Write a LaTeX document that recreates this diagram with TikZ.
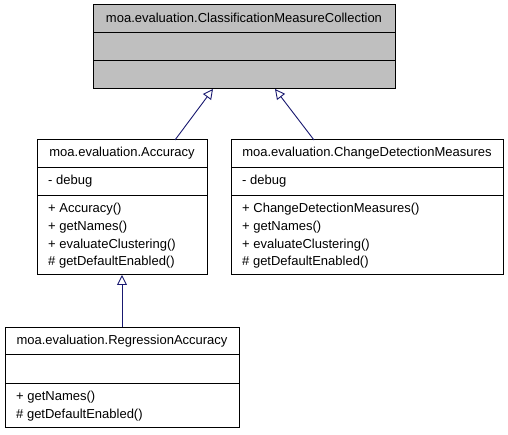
\documentclass[tikz,border=0pt]{standalone}
\usepackage{fontspec}
\setmainfont{Liberation Sans}
\usetikzlibrary{arrows.meta,calc}
\definecolor{boxgray}{HTML}{BFBFBF}
\definecolor{edgeblue}{HTML}{191970}
\tikzset{
  classbox/.style={draw=black, line width=1pt, fill=white, anchor=north west, inner sep=0pt, outer sep=0pt},
  rowline/.style={draw=black, line width=1pt},
  classname/.style={font=\fontsize{13}{16}\selectfont, anchor=base, inner sep=0pt},
  member/.style={font=\fontsize{13}{16}\selectfont, anchor=base west, inner sep=0pt},
  inherits/.style={draw=edgeblue, line width=0.9pt, -{Triangle[open, length=10pt, width=10pt, fill=white]}},
}
\begin{document}
\begin{tikzpicture}[x=1pt,y=1pt]
  \useasboundingbox (0,0) rectangle (508,-435);
  % base class
  \node[classbox, fill=boxgray, minimum width=302, minimum height=84] (cmc) at (93,-5) {};
  \draw[rowline] ($(cmc.north west)+(0,-28)$) -- ($(cmc.north east)+(0,-28)$);
  \draw[rowline] ($(cmc.north west)+(0,-56)$) -- ($(cmc.north east)+(0,-56)$);
  \node[classname] (cmc-title) at ($(cmc.north)+(0,-17.5)$) {moa.evaluation.ClassificationMeasureCollection};
  % Accuracy
  \node[classbox, minimum width=170, minimum height=135] (acc) at (37,-140) {};
  \draw[rowline] ($(acc.north west)+(0,-28)$) -- ($(acc.north east)+(0,-28)$);
  \draw[rowline] ($(acc.north west)+(0,-56)$) -- ($(acc.north east)+(0,-56)$);
  \node[classname] (acc-title) at ($(acc.north)+(0,-17)$) {moa.evaluation.Accuracy};
  \node[member] (acc-a1) at ($(acc.north west)+(11,-45)$) {- debug};
  \node[member] (acc-m1) at ($(acc.north west)+(11,-72.6)$) {+ Accuracy()};
  \node[member] (acc-m2) at ($(acc.north west)+(11,-90.4)$) {+ getNames()};
  \node[member] (acc-m3) at ($(acc.north west)+(11,-108.2)$) {+ evaluateClustering()};
  \node[member] (acc-m4) at ($(acc.north west)+(11,-126)$) {\# getDefaultEnabled()};
  % ChangeDetectionMeasures
  \node[classbox, minimum width=272, minimum height=135] (cdm) at (231,-140) {};
  \draw[rowline] ($(cdm.north west)+(0,-28)$) -- ($(cdm.north east)+(0,-28)$);
  \draw[rowline] ($(cdm.north west)+(0,-56)$) -- ($(cdm.north east)+(0,-56)$);
  \node[classname] (cdm-title) at ($(cdm.north)+(0,-17)$) {moa.evaluation.ChangeDetectionMeasures};
  \node[member] (cdm-a1) at ($(cdm.north west)+(11,-45)$) {- debug};
  \node[member] (cdm-m1) at ($(cdm.north west)+(11,-72.6)$) {+ ChangeDetectionMeasures()};
  \node[member] (cdm-m2) at ($(cdm.north west)+(11,-90.4)$) {+ getNames()};
  \node[member] (cdm-m3) at ($(cdm.north west)+(11,-108.2)$) {+ evaluateClustering()};
  \node[member] (cdm-m4) at ($(cdm.north west)+(11,-126)$) {\# getDefaultEnabled()};
  % RegressionAccuracy
  \node[classbox, minimum width=234, minimum height=100] (reg) at (5,-327) {};
  \draw[rowline] ($(reg.north west)+(0,-27)$) -- ($(reg.north east)+(0,-27)$);
  \draw[rowline] ($(reg.north west)+(0,-56)$) -- ($(reg.north east)+(0,-56)$);
  \node[classname] (reg-title) at ($(reg.north)+(0,-17)$) {moa.evaluation.RegressionAccuracy};
  \node[member] (reg-m1) at ($(reg.north west)+(11,-73)$) {+ getNames()};
  \node[member] (reg-m2) at ($(reg.north west)+(11,-91)$) {\# getDefaultEnabled()};
  % generalisation arrows
  \draw[inherits] ($(acc.north west)+(138,0)$) -- ($(cmc.south west)+(120,0)$);
  \draw[inherits] ($(cdm.north west)+(83,0)$) -- ($(cmc.south west)+(182,0)$);
  \draw[inherits] (reg.north) -- (acc.south);
\end{tikzpicture}
\end{document}
